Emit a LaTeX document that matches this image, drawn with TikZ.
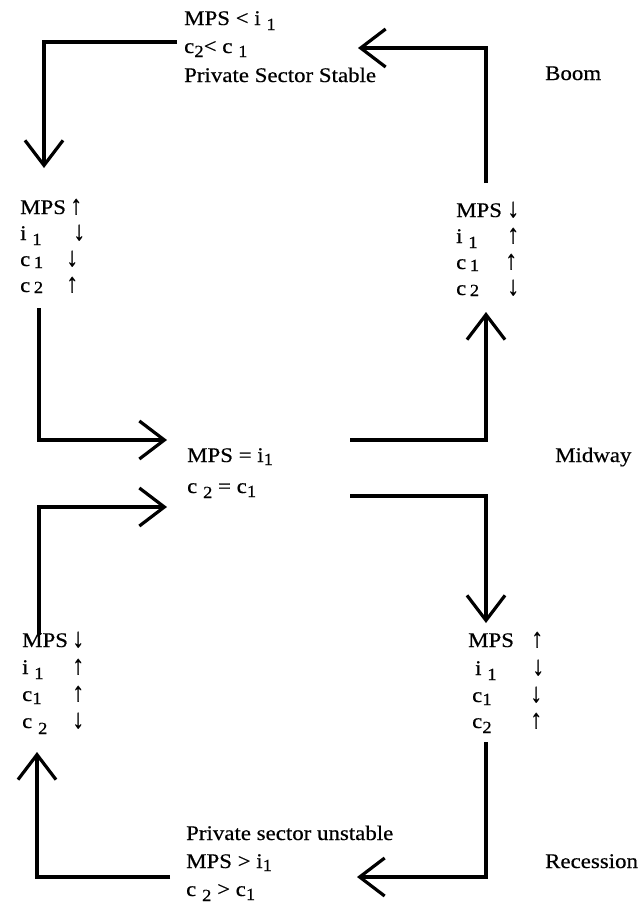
\documentclass[tikz,border=0pt]{standalone}
\usepackage{fontspec}
\setmainfont{Liberation Serif}[FakeStretch=1.1,FakeBold=0.5]
\usetikzlibrary{arrows.meta}
\newcommand\sbs[2][5pt]{\raisebox{-#1}{\fontsize{17}{17}\selectfont #2}}
\newcommand\col[2]{\makebox[#1][l]{#2}}
\newcommand\upa{\scalebox{1.05}[1.3]{↑}}
\newcommand\dna{\scalebox{1.05}[1.3]{↓}}
\begin{document}
\begin{tikzpicture}[x=1pt,y=-1pt,
  txt/.style={anchor=base west, inner sep=0pt, font=\fontsize{20.8}{24}\selectfont},
  conn/.style={line width=3.2pt, line join=miter, line cap=butt,
    -{Straight Barb[length=25pt,width=38pt]}}]
\fill[white] (0,0) rectangle (640,905);
\useasboundingbox (0,0) rectangle (640,905);
% top
\node[txt] (t1) at (184,25) {MPS < i \sbs{1}};
\node[txt] (t2) at (184,53) {c\sbs[4pt]{2}< c \sbs[4pt]{1}};
\node[txt] (t3) at (184,82) {Private Sector Stable};
\node[txt] (boom) at (545,80) {Boom};
% upper left block
\node[txt] (ul1) at (20,214) {\col{50pt}{MPS}\upa};
\node[txt] (ul2) at (20,240) {\col{53pt}{i \sbs{1}}\dna};
\node[txt] (ul3) at (20,266) {\col{46pt}{c\,\sbs[2pt]{1}}\dna};
\node[txt] (ul4) at (20,292) {\col{46pt}{c\,\sbs[1pt]{2}}\upa};
% upper right block
\node[txt] (ur1) at (456,217) {\col{51pt}{MPS}\dna};
\node[txt] (ur2) at (456,243) {\col{51pt}{i \sbs{1}}\upa};
\node[txt] (ur3) at (456,269) {\col{49pt}{c\,\sbs[2pt]{1}}\upa};
\node[txt] (ur4) at (456,295) {\col{51pt}{c\,\sbs[1pt]{2}}\dna};
% middle
\node[txt] (m1) at (187,462) {MPS = i\sbs[3pt]{1}};
\node[txt] (m2) at (187,493) {c \sbs{2} = c\sbs[4pt]{1}};
\node[txt] (midway) at (555,462) {Midway};
% lower left block
\node[txt] (ll1) at (22,647) {\col{50pt}{MPS}\dna};
\node[txt] (ll2) at (22,674) {\col{50pt}{i \sbs{1}}\upa};
\node[txt] (ll3) at (22,701) {\col{50pt}{c\sbs[3pt]{1}}\upa};
\node[txt] (ll4) at (22,728) {\col{50pt}{c \sbs[6pt]{2}}\dna};
% lower right block
\node[txt] (lr1) at (468,647) {\col{63pt}{MPS}\upa};
\node[txt] (lr2) at (475,675) {\col{57pt}{i \sbs{1}}\dna};
\node[txt] (lr3) at (472,702) {\col{58pt}{c\sbs[3pt]{1}}\dna};
\node[txt] (lr4) at (472,728) {\col{58pt}{c\sbs{2}}\upa};
% bottom
\node[txt] (b1) at (186,840) {Private sector unstable};
\node[txt] (b2) at (186,868) {MPS > i\sbs[3pt]{1}};
\node[txt] (b3) at (186,896) {c \sbs{2} > c\sbs[4pt]{1}};
\node[txt] (recession) at (545,868) {Recession};
% connector points
\coordinate (a0) at (177,42);  \coordinate (a1) at (44,42);   \coordinate (a2) at (44,168);
\coordinate (b0) at (486,183); \coordinate (bb1) at (486,48); \coordinate (bb2) at (358,48);
\coordinate (c0) at (39,308);  \coordinate (c1) at (39,440);  \coordinate (c2) at (167,440);
\coordinate (d0) at (350,440); \coordinate (d1) at (486,440); \coordinate (d2) at (486,312);
\coordinate (e0) at (350,496); \coordinate (e1) at (486,496); \coordinate (e2) at (486,623);
\coordinate (f0) at (39,635);  \coordinate (f1) at (39,507);  \coordinate (f2) at (167,507);
\coordinate (g0) at (486,742); \coordinate (g1) at (486,877); \coordinate (g2) at (357,877);
\coordinate (h0) at (170,877); \coordinate (h1) at (37,877);  \coordinate (h2) at (37,752);
\draw[conn] (a0) -- (a1) -- (a2);
\draw[conn] (b0) -- (bb1) -- (bb2);
\draw[conn] (c0) -- (c1) -- (c2);
\draw[conn] (d0) -- (d1) -- (d2);
\draw[conn] (e0) -- (e1) -- (e2);
\draw[conn] (f0) -- (f1) -- (f2);
\draw[conn] (g0) -- (g1) -- (g2);
\draw[conn] (h0) -- (h1) -- (h2);
\end{tikzpicture}
\end{document}
